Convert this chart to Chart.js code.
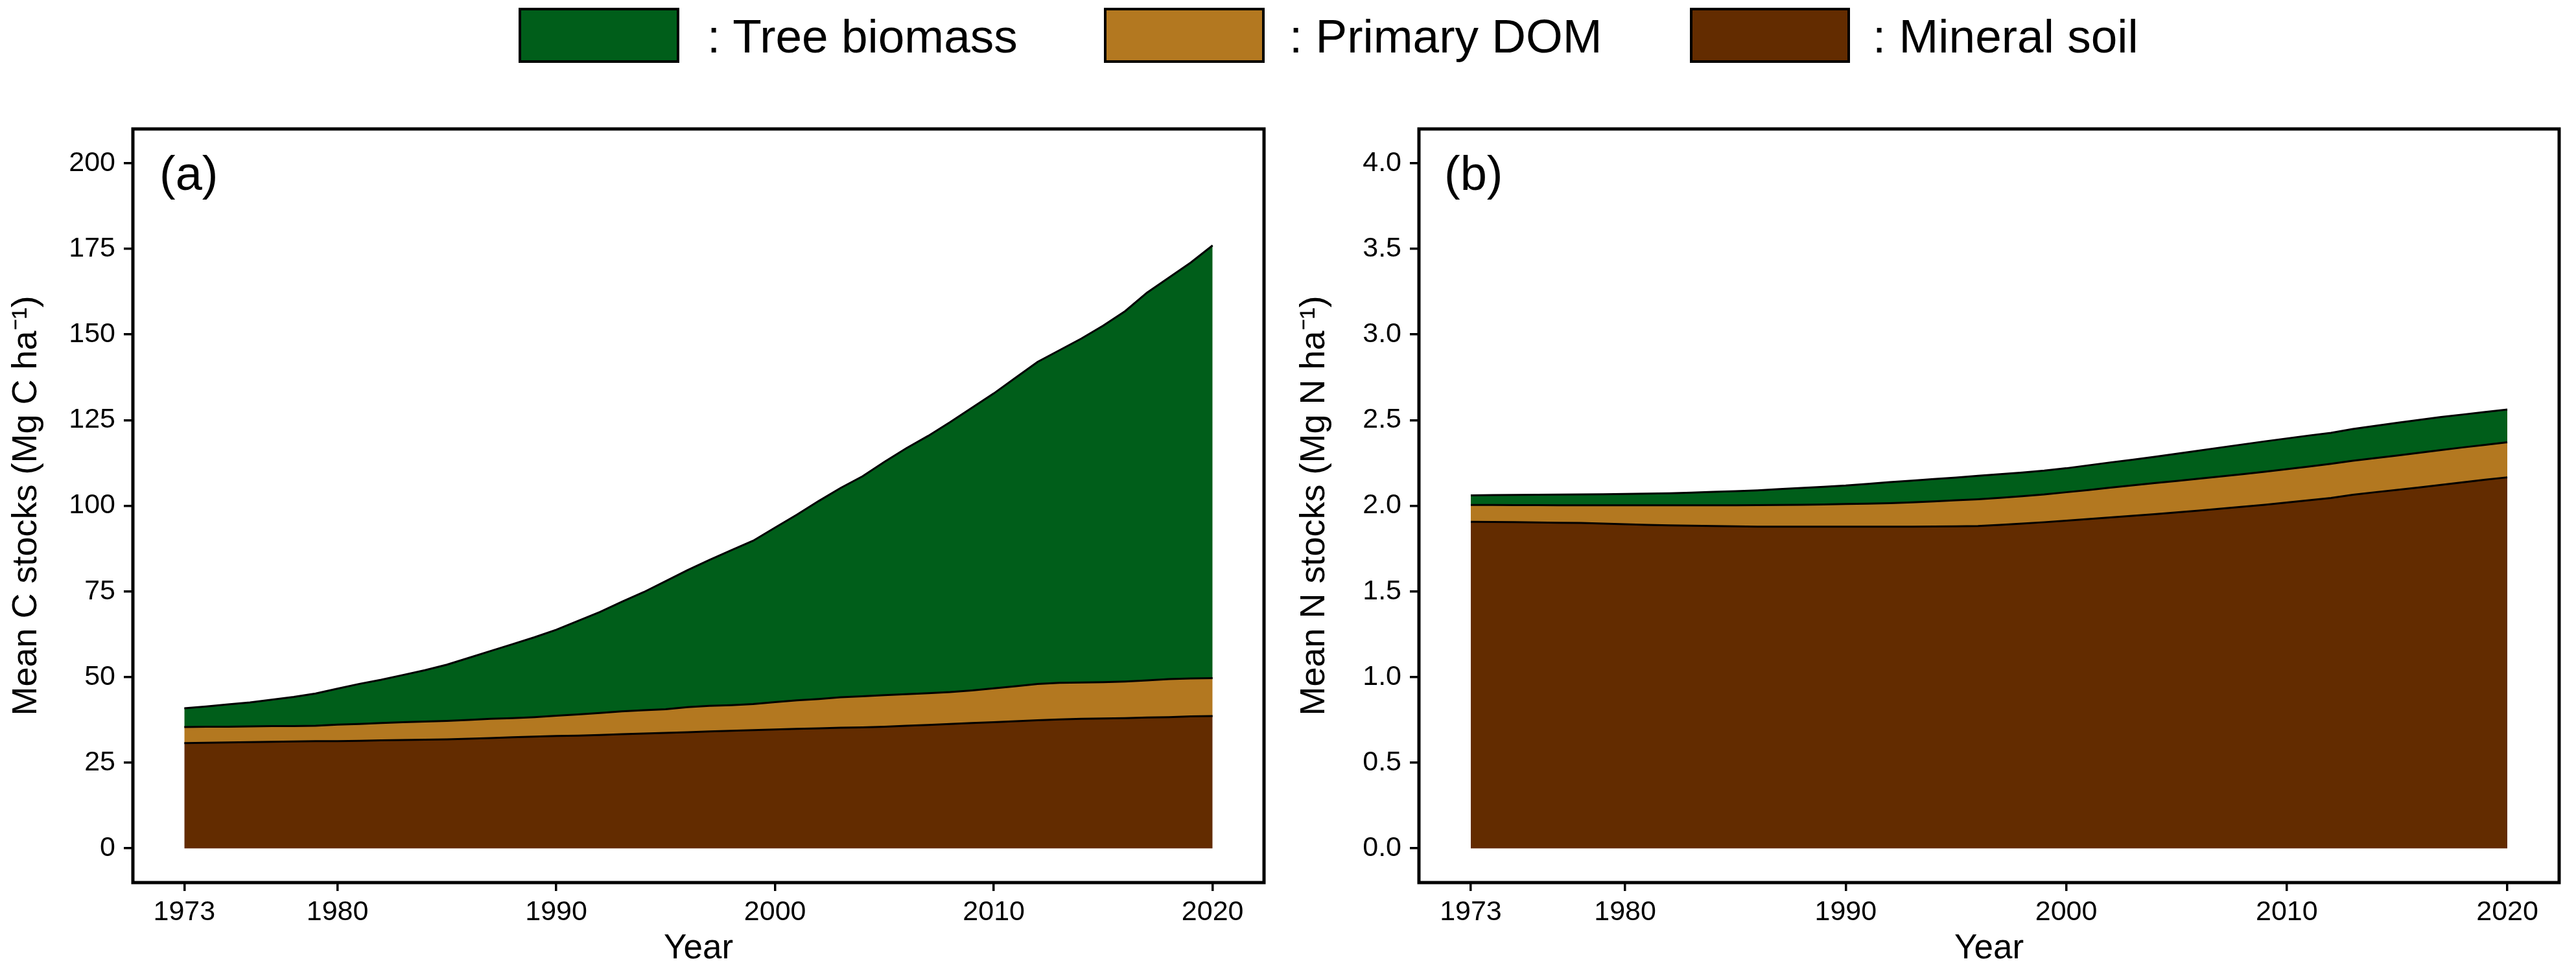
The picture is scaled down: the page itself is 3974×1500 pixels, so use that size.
<!DOCTYPE html>
<html>
<head>
<meta charset="utf-8">
<script src="https://cdn.jsdelivr.net/npm/chart.js@4.4.1/dist/chart.umd.min.js"></script>
<style>
html,body{margin:0;padding:0;background:#fff;width:3974px;height:1500px;overflow:hidden;font-family:"Liberation Sans",Arial,sans-serif;}
canvas{position:absolute;top:0;}
#c1{left:0;}
#c2{left:1987px;}
.box{position:absolute;top:12px;height:85px;box-sizing:border-box;border:4px solid #000;}
.lt{position:absolute;top:19px;font-size:73px;line-height:73px;color:#000;white-space:nowrap;}
.pl{position:absolute;top:231px;font-size:74px;line-height:74px;color:#000;}
</style>
</head>
<body>
<canvas id="c1" width="1987" height="1500"></canvas>
<canvas id="c2" width="1987" height="1500"></canvas>

<div class="box" style="left:800px;width:248px;background:#005E1A"></div>
<div class="lt" style="left:1091px">: Tree biomass</div>
<div class="box" style="left:1703px;width:248px;background:#B37820"></div>
<div class="lt" style="left:1989px">: Primary DOM</div>
<div class="box" style="left:2607px;width:247px;background:#632C00"></div>
<div class="lt" style="left:2889px">: Mineral soil</div>

<div class="pl" style="left:246px">(a)</div>
<div class="pl" style="left:2228px">(b)</div>

<script>
const years = [1973,1974,1975,1976,1977,1978,1979,1980,1981,1982,1983,1984,1985,1986,1987,1988,1989,1990,1991,1992,1993,1994,1995,1996,1997,1998,1999,2000,2001,2002,2003,2004,2005,2006,2007,2008,2009,2010,2011,2012,2013,2014,2015,2016,2017,2018,2019,2020];

// Panel (a): carbon stocks (Mg C ha-1), stacked components
const cMineral = [30.7,30.8,30.9,31.0,31.1,31.2,31.3,31.3,31.4,31.5,31.6,31.7,31.8,32.0,32.2,32.4,32.6,32.8,32.9,33.1,33.3,33.5,33.7,33.9,34.1,34.3,34.5,34.7,34.9,35.0,35.2,35.3,35.5,35.8,36.0,36.3,36.6,36.8,37.1,37.4,37.6,37.8,37.9,38.0,38.2,38.3,38.5,38.6];
const cDom = [4.7,4.7,4.6,4.6,4.6,4.5,4.5,4.8,4.9,5.1,5.2,5.3,5.4,5.5,5.6,5.6,5.7,5.9,6.2,6.4,6.7,6.8,6.9,7.3,7.5,7.5,7.6,8.0,8.3,8.6,8.9,9.1,9.2,9.2,9.3,9.3,9.5,9.9,10.2,10.6,10.7,10.6,10.6,10.7,10.8,11.1,11.1,11.1];
const cTree = [5.5,5.9,6.5,7.0,7.7,8.5,9.4,10.5,11.7,12.6,13.8,15.0,16.4,18.1,19.8,21.6,23.3,25.1,27.3,29.5,32.0,34.5,37.4,40.0,42.6,45.2,47.7,50.9,54.2,57.8,61.1,64.2,68.1,71.8,75.1,78.8,82.5,86.1,90.1,94.0,97.1,100.4,104.1,108.1,113.2,117.2,121.4,126.3];

// Panel (b): nitrogen stocks (Mg N ha-1), stacked components
const nMineral = [1.906,1.905,1.904,1.903,1.901,1.900,1.896,1.892,1.888,1.886,1.884,1.882,1.880,1.878,1.878,1.878,1.878,1.878,1.878,1.878,1.878,1.879,1.880,1.882,1.888,1.896,1.904,1.913,1.922,1.932,1.941,1.951,1.961,1.972,1.983,1.994,2.006,2.019,2.032,2.045,2.064,2.079,2.093,2.107,2.122,2.137,2.152,2.166];
const nDom = [0.099,0.100,0.100,0.101,0.102,0.103,0.107,0.111,0.115,0.117,0.119,0.121,0.123,0.126,0.127,0.128,0.130,0.132,0.134,0.137,0.142,0.147,0.152,0.156,0.158,0.160,0.162,0.166,0.170,0.174,0.178,0.181,0.184,0.186,0.188,0.190,0.193,0.195,0.197,0.200,0.199,0.199,0.200,0.202,0.203,0.204,0.204,0.205];
const nTree = [0.056,0.057,0.059,0.060,0.062,0.063,0.064,0.066,0.068,0.070,0.074,0.078,0.082,0.086,0.092,0.098,0.103,0.108,0.116,0.123,0.127,0.130,0.133,0.137,0.138,0.138,0.139,0.140,0.144,0.147,0.150,0.154,0.159,0.164,0.169,0.174,0.177,0.179,0.181,0.181,0.185,0.188,0.191,0.192,0.193,0.192,0.192,0.191];

const xTicks = [1973,1980,1990,2000,2010,2020];
const cYTicks = [0,25,50,75,100,125,150,175,200];
const nYTicks = [0,0.5,1.0,1.5,2.0,2.5,3.0,3.5,4.0];

const seriesNames = ['Mineral soil','Primary DOM','Tree biomass'];
const seriesColors = ['#632C00','#B37820','#005E1A'];

Chart.defaults.font.family = "'Liberation Sans', Arial, sans-serif";
Chart.defaults.color = '#000';

const frame = {
  id: 'frame',
  afterDraw(chart) {
    const a = chart.chartArea, ctx = chart.ctx;
    ctx.save();
    ctx.strokeStyle = '#000';
    ctx.lineWidth = 5;
    ctx.strokeRect(a.left, a.top, a.right - a.left, a.bottom - a.top);
    ctx.restore();
  }
};

function makeChart(id, comps, yTicks, yMin, yMax, yTitle, decimals, yWidth, rightPad) {
  const datasets = comps.map((arr, i) => ({
    label: seriesNames[i],
    data: years.map((yr, j) => ({x: yr, y: arr[j]})),
    backgroundColor: seriesColors[i],
    borderColor: '#000',
    borderWidth: 3,
    pointRadius: 0,
    tension: 0,
    fill: i === 0 ? 'origin' : '-1'
  }));
  return new Chart(document.getElementById(id), {
    type: 'line',
    data: {datasets},
    plugins: [frame],
    options: {
      responsive: false,
      animation: false,
      devicePixelRatio: 1,
      layout: {padding: {left: 0, right: rightPad, top: 199, bottom: 0}},
      plugins: {legend: {display: false}, tooltip: {enabled: false}},
      scales: {
        x: {
          type: 'linear',
          min: 1970.65, max: 2022.35,
          afterBuildTicks: s => { s.ticks = xTicks.map(v => ({value: v})); },
          afterFit: s => { s.height = 138; },
          grid: {drawOnChartArea: false, drawTicks: true, tickLength: 13, lineWidth: 3.5, color: '#000'},
          border: {display: false},
          ticks: {font: {size: 43}, color: '#000', padding: 7, maxRotation: 0, callback: v => String(v)},
          title: {display: true, text: 'Year', font: {size: 53}, color: '#000', padding: {top: 0, bottom: 4}}
        },
        y: {
          type: 'linear',
          stacked: true,
          min: yMin, max: yMax,
          afterBuildTicks: s => { s.ticks = yTicks.map(v => ({value: v})); },
          afterFit: s => { s.width = yWidth; },
          grid: {drawOnChartArea: false, drawTicks: true, tickLength: 14, lineWidth: 3.5, color: '#000'},
          border: {display: false},
          ticks: {font: {size: 43}, color: '#000', padding: 13, callback: v => Number(v).toFixed(decimals)},
          title: {display: true, text: yTitle, font: {size: 54}, color: '#000', padding: {top: 9, bottom: 0}}
        }
      }
    }
  });
}

makeChart('c1', [cMineral, cDom, cTree], cYTicks, -10, 210, 'Mean C stocks (Mg C ha\u207B\u00B9)', 0, 205, 37);
makeChart('c2', [nMineral, nDom, nTree], nYTicks, -0.2, 4.2, 'Mean N stocks (Mg N ha\u207B\u00B9)', 1, 202, 26);
</script>
</body>
</html>
